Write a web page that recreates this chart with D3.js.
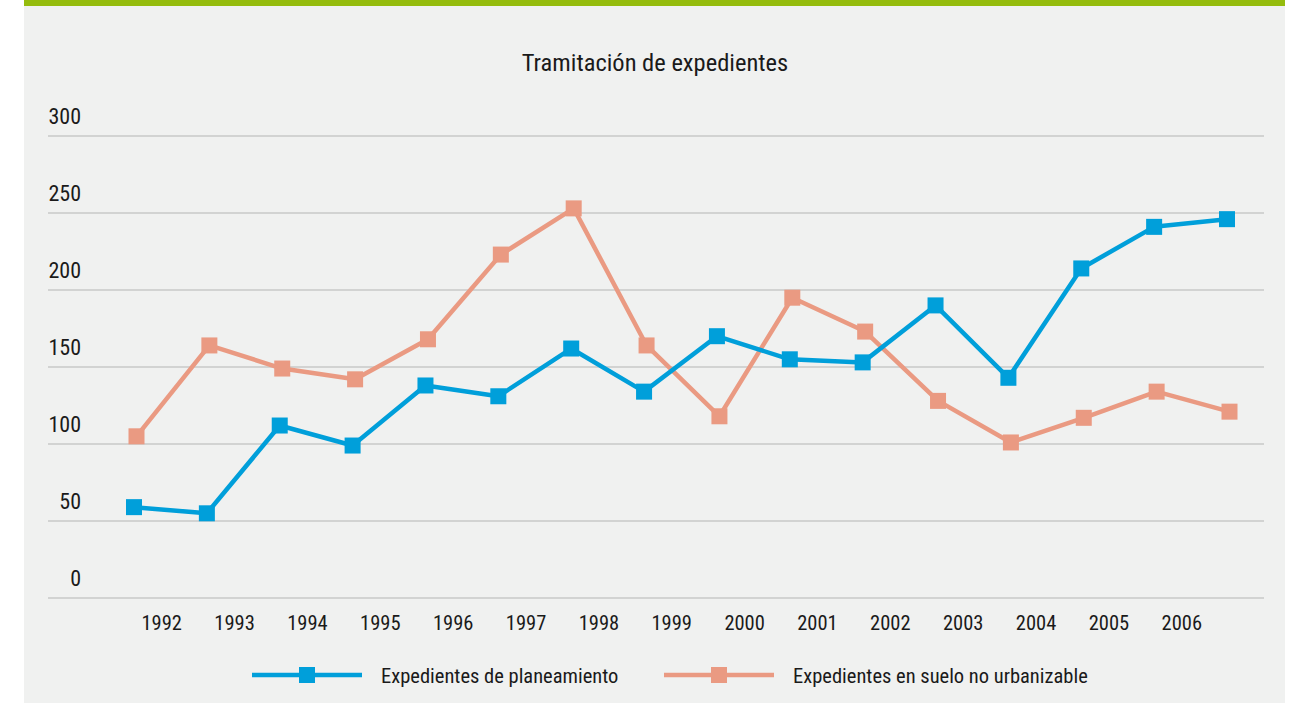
<!DOCTYPE html>
<html>
<head>
<meta charset="utf-8">
<script src="https://cdn.jsdelivr.net/npm/d3@7"></script>
<style>
  body { margin: 0; background: #ffffff; }
  svg { display: block; font-family: "Liberation Sans Narrow", "Roboto Condensed", "Arial Narrow", sans-serif; }
</style>
</head>
<body>
<svg width="1290" height="703"></svg>
<script>
// data
var years = ["1992","1993","1994","1995","1996","1997","1998","1999","2000","2001","2002","2003","2004","2005","2006"];
var planeamiento = [59, 55, 112, 99, 138, 131, 162, 134, 170, 155, 153, 190, 143, 214, 241, 246];
var noUrbanizable = [105, 164, 149, 142, 168, 223, 253, 164, 118, 195, 173, 128, 101, 117, 134, 121];
var yTicks = [0, 50, 100, 150, 200, 250, 300];

var blue = "#009fda", salmon = "#ea9a82";

var svg = d3.select("svg");

// panel + green top band
svg.append("rect").attr("x", 24).attr("y", 0).attr("width", 1261).attr("height", 703).attr("fill", "#f0f1f0");
svg.append("rect").attr("x", 24).attr("y", 0).attr("width", 1261).attr("height", 6).attr("fill", "#95bc0d");

svg.append("text")
    .attr("x", 655).attr("y", 71)
    .attr("text-anchor", "middle")
    .style("font-size", "24.5px")
    .attr("fill", "#1a1a1a")
    .text("Tramitación de expedientes");

var y = d3.scaleLinear().domain([0, 300]).range([598, 136]);
var x = d3.scaleLinear().domain([0, 15]).range([134, 1227]);

// gridlines
svg.selectAll(".grid")
    .data(yTicks)
    .enter().append("line")
    .attr("class", "grid")
    .attr("x1", 48).attr("x2", 1264)
    .attr("y1", function(d) { return y(d); })
    .attr("y2", function(d) { return y(d); })
    .attr("stroke", "#c9c9c9")
    .attr("stroke-width", 1.5);

svg.selectAll(".ylab")
    .data(yTicks)
    .enter().append("text")
    .attr("class", "ylab")
    .attr("x", 81)
    .attr("y", function(d) { return y(d) - 12; })
    .attr("text-anchor", "end")
    .style("font-size", "22px")
    .attr("fill", "#1a1a1a")
    .text(function(d) { return d; });

svg.selectAll(".xlab")
    .data(years)
    .enter().append("text")
    .attr("class", "xlab")
    .attr("x", function(d, i) { return x(i + 0.38); })
    .attr("y", 630)
    .attr("text-anchor", "middle")
    .style("font-size", "20.5px")
    .attr("fill", "#1a1a1a")
    .text(function(d) { return d; });

function drawSeries(values, color, dx) {
    var line = d3.line()
        .x(function(d, i) { return x(i) + dx; })
        .y(function(d) { return y(d); });
    svg.append("path")
        .datum(values)
        .attr("d", line)
        .attr("fill", "none")
        .attr("stroke", color)
        .attr("stroke-width", 4.5)
        .attr("stroke-linejoin", "round");
    svg.selectAll(null)
        .data(values)
        .enter().append("rect")
        .attr("x", function(d, i) { return x(i) + dx - 8; })
        .attr("y", function(d) { return y(d) - 8; })
        .attr("width", 16).attr("height", 16)
        .attr("fill", color);
}

drawSeries(noUrbanizable, salmon, 2.5);
drawSeries(planeamiento, blue, 0);

// legend
var legend = [
    {label: "Expedientes de planeamiento", color: blue, x: 252},
    {label: "Expedientes en suelo no urbanizable", color: salmon, x: 664}
];
var lg = svg.selectAll(".legend")
    .data(legend)
    .enter().append("g")
    .attr("class", "legend")
    .attr("transform", function(d) { return "translate(" + d.x + ",675)"; });
lg.append("line")
    .attr("x1", 0).attr("x2", 110)
    .attr("stroke", function(d) { return d.color; })
    .attr("stroke-width", 4.5);
lg.append("rect")
    .attr("x", 47).attr("y", -8).attr("width", 16).attr("height", 16)
    .attr("fill", function(d) { return d.color; });
lg.append("text")
    .attr("x", 129).attr("y", 8)
    .style("font-size", "20.5px")
    .attr("fill", "#1a1a1a")
    .text(function(d) { return d.label; });
</script>
</body>
</html>
